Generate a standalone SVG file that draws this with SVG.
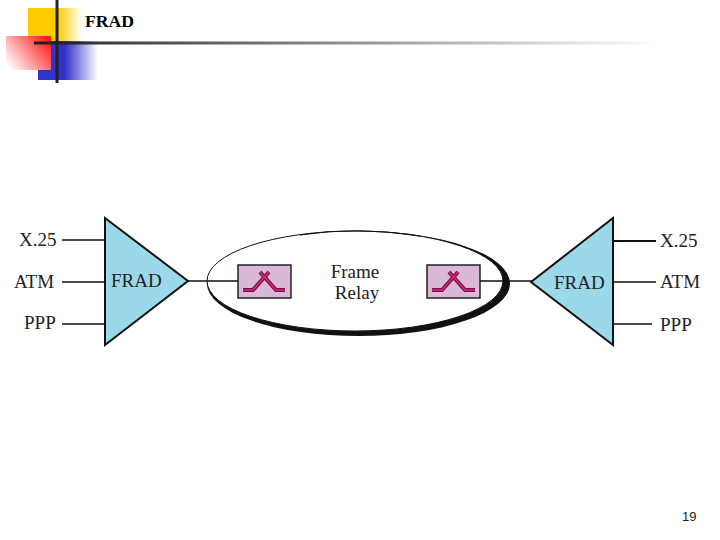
<svg xmlns="http://www.w3.org/2000/svg" width="720" height="540" viewBox="0 0 720 540">
<style>
.t{font-family:"Liberation Serif",serif;font-size:19px;fill:#222}
.l{stroke:#111;stroke-width:1.5;fill:none}
.tri{fill:#9bd8ea;stroke:#111;stroke-width:2}
.sw{fill:#dab8d8;stroke:#222;stroke-width:1.5}
.xo{fill:none;stroke:#7c1044;stroke-width:4}
.xi{fill:none;stroke:#d02c78;stroke-width:1.500}
</style>
<defs>
<linearGradient id="gy"><stop offset="0" stop-color="#ffcc00"/><stop offset=".55" stop-color="#ffcc00"/><stop offset="1" stop-color="#ffcc00" stop-opacity="0"/></linearGradient>
<linearGradient id="gb"><stop offset="0" stop-color="#3333cc"/><stop offset=".45" stop-color="#3333cc"/><stop offset="1" stop-color="#3333cc" stop-opacity="0"/></linearGradient>
<linearGradient id="gr" x1="1" y1="0.2" x2="0" y2="0.8"><stop offset="0" stop-color="#ff1a1a"/><stop offset="1" stop-color="#fff"/></linearGradient>
<linearGradient id="gl"><stop offset="0" stop-color="#222"/><stop offset="1" stop-color="#222" stop-opacity="0"/></linearGradient>
</defs>
<g id="decor">
<rect x="28" y="8" width="54" height="40" fill="url(#gy)"/>
<rect x="38" y="41" width="60" height="39" fill="url(#gb)"/>
<rect x="6" y="36" width="45" height="34" fill="url(#gr)"/>
<rect x="34" y="41.500" width="626" height="3" fill="url(#gl)"/>
<rect x="55.500" y="0" width="3" height="83" fill="#222"/>
<text x="85" y="27" font-family="Liberation Serif,serif" font-size="17.700" font-weight="bold" fill="#000">FRAD</text>
</g>
<g id="cloud">
<ellipse cx="358.500" cy="283.500" rx="151.500" ry="52.500" fill="#111"/>
<ellipse cx="355" cy="281" rx="148" ry="50" fill="#fff" stroke="#111" stroke-width="1"/>
<path d="M300 235Q357 226 420 236" fill="none" stroke="#111" stroke-width="1"/>
<text class="t" x="355" y="278" text-anchor="middle">Frame</text>
<text class="t" x="357" y="299" text-anchor="middle">Relay</text>
</g>
<g id="connectors">
<path class="l" d="M62 240H105M62 282H105M62 324H105M188 281H238M480 281H532"/>
<path class="l" d="M613 282H656M613 324H652"/>
<path d="M613 241H656" stroke="#111" stroke-width="2.200"/>
</g>
<g id="switch-left">
<rect class="sw" x="238" y="265" width="53" height="33"/>
<path class="xo" d="M243 290H253L269 272M260 272L276 290H285"/>
<path class="xi" d="M243 290H253L269 272M260 272L276 290H285"/>
</g>
<g id="switch-right">
<rect class="sw" x="427" y="265" width="53" height="33"/>
<path class="xo" d="M432 290H442L458 272M449 272L465 290H475"/>
<path class="xi" d="M432 290H442L458 272M449 272L465 290H475"/>
</g>
<g id="frad-left">
<polygon class="tri" points="105,218 188,281 105,345"/>
<text class="t" x="111" y="287">FRAD</text>
</g>
<g id="frad-right">
<polygon class="tri" points="613,218 531,282 613,345"/>
<text class="t" x="554" y="289">FRAD</text>
</g>
<g id="labels">
<text class="t" x="19" y="246">X.25</text>
<text class="t" x="14" y="288">ATM</text>
<text class="t" x="24" y="329">PPP</text>
<text class="t" x="660" y="247">X.25</text>
<text class="t" x="660" y="288">ATM</text>
<text class="t" x="660" y="331">PPP</text>
<text x="682" y="521" font-family="Liberation Sans,sans-serif" font-size="13" fill="#222">19</text>
</g>
</svg>
